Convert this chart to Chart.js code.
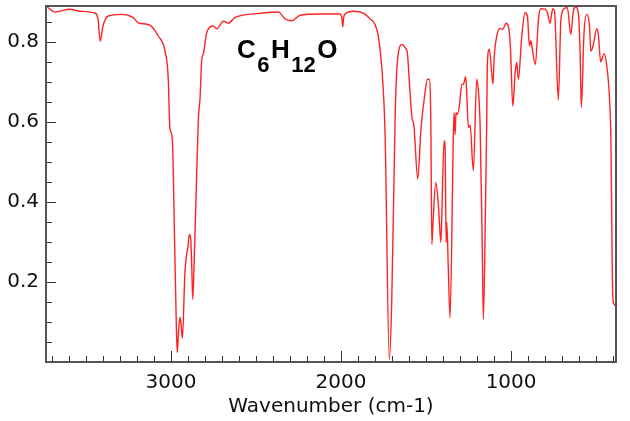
<!DOCTYPE html>
<html>
<head>
<meta charset="utf-8">
<script src="https://cdn.jsdelivr.net/npm/chart.js@4.4.1/dist/chart.umd.min.js"></script>
<style>
  body { margin: 0; background: #fff; }
  #wrap { width: 630px; height: 421px; }
</style>
</head>
<body>
<div id="wrap"><canvas id="irChart" width="630" height="421"></canvas></div>
<script>
// Spectrum values (wavenumber in cm-1, transmittance)
const wavenumbers = [
    3735, 3729, 3682, 3594, 3535, 3447, 3430, 3416, 3400, 3369, 3290, 3223, 3192, 3124, 3075, 3035,
    3016, 3010, 3006, 2992, 2980, 2968, 2963, 2955, 2947, 2940, 2933, 2918, 2900, 2892, 2884, 2878,
    2872, 2865, 2853, 2839, 2829, 2819, 2810, 2790, 2751, 2731, 2692, 2663, 2624, 2496, 2369, 2329,
    2290, 2241, 2124, 2006, 1995, 1990, 1985, 1976, 1928, 1869, 1829, 1800, 1781, 1761, 1741, 1716,
    1702, 1682, 1673, 1653, 1640, 1624, 1610, 1598, 1584, 1571, 1549, 1530, 1506, 1492, 1481, 1472,
    1466, 1460, 1443, 1427, 1413, 1408, 1394, 1388, 1382, 1378, 1369, 1359, 1339, 1335, 1329, 1324,
    1316, 1304, 1290, 1281, 1267, 1261, 1251, 1241, 1222, 1202, 1193, 1182, 1170, 1163, 1150, 1143,
    1140, 1128, 1106, 1100, 1084, 1065, 1049, 1029, 1010, 1003, 990, 976, 967, 957, 937, 918,
    904, 892, 884, 878, 857, 839, 825, 800, 786, 771, 755, 745, 722, 707, 688, 669,
    649, 633, 619, 604, 594, 587, 571, 555, 539, 531, 516, 496, 486, 473, 453, 437,
    421, 413, 408, 402, 395, 385
];
const transmittance = [
    0.890, 0.888, 0.875, 0.882, 0.877, 0.872, 0.860, 0.802, 0.840, 0.865, 0.869, 0.861, 0.848, 0.842, 0.815, 0.777,
    0.707, 0.620, 0.582, 0.557, 0.330, 0.080, 0.024, 0.080, 0.112, 0.090, 0.059, 0.224, 0.290, 0.319, 0.307, 0.240,
    0.157, 0.232, 0.407, 0.607, 0.660, 0.757, 0.770, 0.823, 0.840, 0.833, 0.852, 0.847, 0.861, 0.871, 0.875, 0.858,
    0.853, 0.867, 0.870, 0.870, 0.860, 0.838, 0.860, 0.870, 0.877, 0.872, 0.858, 0.844, 0.815, 0.740, 0.570, 0.006,
    0.149, 0.607, 0.723, 0.790, 0.794, 0.786, 0.773, 0.698, 0.615, 0.590, 0.457, 0.582, 0.673, 0.707, 0.707, 0.600,
    0.294, 0.340, 0.449, 0.390, 0.299, 0.357, 0.553, 0.532, 0.299, 0.349, 0.232, 0.111, 0.574, 0.623, 0.569, 0.623,
    0.619, 0.640, 0.694, 0.694, 0.713, 0.673, 0.586, 0.592, 0.478, 0.707, 0.682, 0.590, 0.300, 0.107, 0.400, 0.607,
    0.740, 0.782, 0.695, 0.757, 0.815, 0.834, 0.832, 0.847, 0.823, 0.780, 0.640, 0.723, 0.749, 0.707, 0.815, 0.873,
    0.865, 0.790, 0.803, 0.790, 0.744, 0.857, 0.883, 0.882, 0.873, 0.847, 0.883, 0.878, 0.655, 0.857, 0.883, 0.886,
    0.819, 0.879, 0.888, 0.871, 0.773, 0.636, 0.823, 0.869, 0.840, 0.777, 0.794, 0.833, 0.815, 0.750, 0.771, 0.740,
    0.657, 0.557, 0.357, 0.165, 0.145, 0.140
];

// Tick labels
const xTickLabels = [3000, 2000, 1000];
const yTickLabels = [0.2, 0.4, 0.6, 0.8];

const formulaParts = [
    { text: 'C', sub: false },
    { text: '6', sub: true },
    { text: 'H', sub: false },
    { text: '12', sub: true },
    { text: 'O', sub: false }
];

// Frame + inward tick marks (major and minor)
const frameTicks = {
    id: 'frameTicks',
    afterDatasetsDraw(chart) {
        const { ctx, chartArea, scales } = chart;
        const { left, right, top, bottom } = chartArea;
        ctx.save();
        ctx.strokeStyle = '#333';
        ctx.lineWidth = 1;
        ctx.beginPath();
        // x minor ticks every 100, major at the labels
        for (let v = 400; v <= 3700; v += 100) {
            const px = Math.round(scales.x.getPixelForValue(v)) + 0.5;
            const len = xTickLabels.includes(v) ? 11 : 6;
            ctx.moveTo(px, bottom);
            ctx.lineTo(px, bottom - len);
        }
        // y minor ticks every 0.05
        for (let i = 1; i <= 17; i++) {
            const v = i * 0.05;
            const py = Math.round(scales.y.getPixelForValue(v)) + 0.5;
            const len = (i % 4 === 0) ? 10 : 6;
            ctx.moveTo(left, py);
            ctx.lineTo(left + len, py);
        }
        ctx.stroke();

        ctx.strokeStyle = '#555';
        ctx.lineWidth = 2;
        ctx.strokeRect(left, top, right - left, bottom - top);
        ctx.restore();
    }
};

// Molecular formula with subscripts
const formulaLabel = {
    id: 'formulaLabel',
    afterDraw(chart) {
        const ctx = chart.ctx;
        ctx.save();
        ctx.fillStyle = '#000';
        ctx.textBaseline = 'alphabetic';
        let x = 237;
        formulaParts.forEach(p => {
            ctx.font = p.sub ? 'bold 22px "Liberation Sans", Arial, sans-serif'
                             : 'bold 26px "Liberation Sans", Arial, sans-serif';
            ctx.fillText(p.text, x, p.sub ? 72 : 58);
            x += ctx.measureText(p.text).width + 1.5;
        });
        ctx.restore();
    }
};

const points = wavenumbers.map((w, i) => ({ x: w, y: transmittance[i] }));

const ctx = document.getElementById('irChart').getContext('2d');
new Chart(ctx, {
    type: 'line',
    data: {
        datasets: [{
            data: points,
            borderColor: '#ff2424',
            borderWidth: 1.4,
            pointRadius: 0,
            cubicInterpolationMode: 'monotone',
            fill: false
        }]
    },
    options: {
        responsive: false,
        animation: false,
        layout: { padding: { top: 6, right: 14, left: 0, bottom: 0 } },
        plugins: {
            legend: { display: false },
            tooltip: { enabled: false }
        },
        scales: {
            x: {
                type: 'linear',
                reverse: true,
                min: 383,
                max: 3735,
                grid: { display: false, drawTicks: false },
                border: { display: false },
                afterBuildTicks: scale => {
                    scale.ticks = xTickLabels.map(v => ({ value: v }));
                },
                afterFit: scale => {
                    scale.height = 59;
                    scale.paddingLeft = 0;
                    scale.paddingRight = 0;
                },
                ticks: {
                    color: '#111',
                    padding: 9,
                    maxRotation: 0,
                    font: { family: 'DejaVu Sans', size: 20 },
                    callback: v => String(v)
                },
                title: {
                    display: true,
                    text: 'Wavenumber (cm-1)',
                    color: '#111',
                    font: { family: 'DejaVu Sans', size: 20 },
                    padding: { top: 0, bottom: 2 }
                }
            },
            y: {
                min: 0,
                max: 0.89,
                grid: { display: false, drawTicks: false },
                border: { display: false },
                afterBuildTicks: scale => {
                    scale.ticks = yTickLabels.map(v => ({ value: v }));
                },
                afterFit: scale => {
                    scale.width = 46;
                    scale.paddingTop = 0;
                    scale.paddingBottom = 0;
                },
                ticks: {
                    color: '#111',
                    padding: 7,
                    font: { family: 'DejaVu Sans', size: 20 },
                    callback: v => v.toFixed(1)
                }
            }
        }
    },
    plugins: [frameTicks, formulaLabel]
});
</script>
</body>
</html>
